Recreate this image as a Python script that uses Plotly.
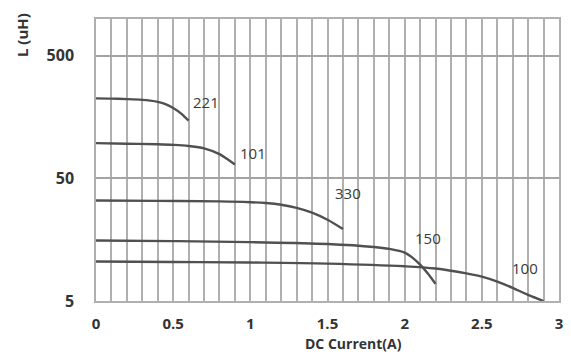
import math
import plotly.graph_objects as go

# Data (DC current in A, inductance in uH)
x_221 = [0, 0.1, 0.2, 0.3, 0.35, 0.4, 0.45, 0.5, 0.55, 0.6]
L_221 = [225, 224, 222, 219, 216, 211, 202, 188, 170, 148]

x_101 = [0, 0.2, 0.4, 0.5, 0.6, 0.7, 0.8, 0.85, 0.9]
L_101 = [97, 96, 95, 94, 92, 88, 79, 72, 65]

x_330 = [0, 0.4, 0.8, 1.0, 1.1, 1.2, 1.3, 1.4, 1.5, 1.6]
L_330 = [33, 32.8, 32.5, 32, 31.5, 30.5, 28.8, 26.3, 23, 19.3]

x_150 = [0, 0.5, 1.0, 1.5, 1.8, 1.9, 2.0, 2.05, 2.1, 2.15, 2.2]
L_150 = [15.6, 15.4, 15.1, 14.6, 13.8, 13.3, 12.4, 11.3, 9.9, 8.4, 6.9]

x_100 = [0, 0.5, 1.0, 1.5, 2.0, 2.2, 2.4, 2.5, 2.6, 2.7, 2.8, 2.9]
L_100 = [10.5, 10.4, 10.3, 10.1, 9.6, 9.2, 8.4, 7.9, 7.2, 6.4, 5.6, 5.0]

series_names = ["221", "101", "330", "150", "100"]
label_x = [0.615, 0.92, 1.63, 2.15, 2.78]
label_y = [212, 80, 38, 16.2, 9.3]

x_ticks = [0, 0.5, 1, 1.5, 2, 2.5, 3]
x_tick_text = ["0", "0.5", "1", "1.5", "2", "2.5", "3"]
y_ticks = [5, 50, 500]
y_tick_text = ["5", "50", "500"]

LINE = "#505050"
GRID = "#b0b0b0"
FONT = "Open Sans"

fig = go.Figure()
for xs, ys, nm in zip([x_221, x_101, x_330, x_150, x_100],
                      [L_221, L_101, L_330, L_150, L_100], series_names):
    fig.add_trace(go.Scatter(x=xs, y=ys, mode="lines", name=nm,
                             line=dict(color=LINE, width=2.4, shape="spline"),
                             showlegend=False, hoverinfo="skip"))

for nm, lx, ly in zip(series_names, label_x, label_y):
    fig.add_annotation(x=lx, y=math.log10(ly), xref="x", yref="y", text=nm,
                       showarrow=False,
                       xanchor="left" if nm in ("221", "101") else "center",
                       font=dict(family=FONT, size=15, color="#3a3a3a"))

fig.add_annotation(xref="paper", yref="paper", x=-0.161, y=1.03,
                   text="<b>L (uH)</b>", textangle=-90, showarrow=False,
                   xanchor="center", yanchor="top",
                   font=dict(family=FONT, size=15, color="#333333"))
fig.add_annotation(xref="x", yref="paper", x=1.67, y=-0.152,
                   text="<b>DC Current(A)</b>", showarrow=False, yanchor="middle",
                   font=dict(family=FONT, size=14, color="#333333"))

fig.update_layout(
    width=571, height=356,
    margin=dict(l=96, r=8, t=19, b=55),
    paper_bgcolor="white", plot_bgcolor="white",
    font=dict(family=FONT, color="#333333"),
    xaxis=dict(range=[0, 3], tickvals=x_ticks, ticktext=x_tick_text,
               showgrid=True, gridcolor=GRID, gridwidth=1.5,
               minor=dict(dtick=0.1, tick0=0, showgrid=True, gridcolor=GRID, gridwidth=1.5),
               showline=True, linecolor=GRID, linewidth=1.5, mirror=True,
               zeroline=False, ticks="", ticklabelstandoff=8,
               tickfont=dict(family=FONT, size=15, color="#333333", weight="bold")),
    yaxis=dict(type="log", range=[0.69897, 3.0], tickvals=y_ticks, ticktext=y_tick_text,
               showgrid=True, gridcolor="#a4a4a4", gridwidth=2,
               showline=True, linecolor=GRID, linewidth=1.5, mirror=True,
               zeroline=False, ticks="", ticklabelstandoff=17,
               tickfont=dict(family=FONT, size=16, color="#333333", weight="bold")),
)

fig.write_html("out.html", config={"displayModeBar": False},
               post_script="document.body.style.margin='0';document.body.style.overflow='hidden';")
